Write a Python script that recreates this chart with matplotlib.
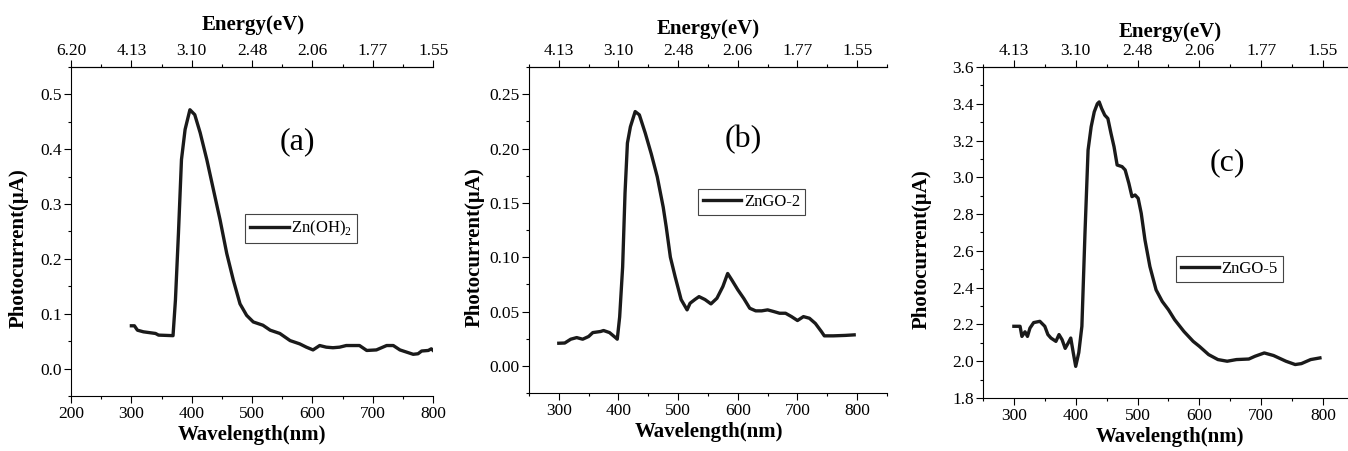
import matplotlib
matplotlib.use("Agg")
import matplotlib.pyplot as plt
from matplotlib.ticker import MultipleLocator, FormatStrFormatter

# === Data ===
wl_a = [300, 305, 310, 320, 340, 345, 369, 373, 378, 383, 389, 397, 405, 414, 425, 436,
        447, 458, 469, 480, 491, 502, 518, 530, 546, 563, 579, 590, 601, 612, 623, 634,
        645, 656, 678, 690, 706, 723, 734, 745, 756, 767, 775, 781, 792, 797, 800]
pc_a = [0.078, 0.078, 0.070, 0.067, 0.064, 0.061, 0.060, 0.125, 0.247, 0.381, 0.436, 0.472,
        0.463, 0.430, 0.381, 0.326, 0.271, 0.210, 0.161, 0.118, 0.097, 0.085, 0.079, 0.070,
        0.064, 0.051, 0.045, 0.039, 0.034, 0.042, 0.039, 0.038, 0.039, 0.042, 0.042, 0.033,
        0.034, 0.042, 0.042, 0.034, 0.030, 0.026, 0.027, 0.032, 0.033, 0.036, 0.033]

wl_b = [300, 310, 320, 330, 340, 350, 357, 370, 375, 385, 395, 398, 402, 407, 411, 415,
        420, 428, 435, 445, 455, 465, 475, 480, 487, 495, 505, 515, 520, 528, 535, 545,
        555, 565, 575, 583, 590, 600, 610, 620, 630, 640, 650, 660, 670, 680, 690, 700,
        710, 720, 730, 740, 745, 760, 780, 795]
pc_b = [0.0208, 0.021, 0.0245, 0.026, 0.0245, 0.027, 0.0306, 0.0316, 0.0325, 0.0306,
        0.026, 0.0245, 0.045, 0.091, 0.159, 0.205, 0.220, 0.234, 0.231, 0.214, 0.195,
        0.174, 0.146, 0.128, 0.100, 0.082, 0.061, 0.0515, 0.0576, 0.061, 0.0637, 0.061,
        0.057, 0.0622, 0.073, 0.085, 0.079, 0.070, 0.062, 0.053, 0.0506, 0.0506, 0.0515,
        0.050, 0.0484, 0.0484, 0.0453, 0.0417, 0.0453, 0.0438, 0.039, 0.0316, 0.0276,
        0.0276, 0.028, 0.0285]

wl_c = [300, 310, 313, 318, 322, 326, 332, 342, 350, 355, 360, 368, 373, 378, 383, 388,
        392, 396, 400, 405, 410, 415, 420, 425, 430, 435, 438, 442, 447, 452, 457, 462,
        467, 475, 480, 486, 491, 496, 501, 506, 512, 520, 530, 540, 550, 560, 575, 590,
        600, 615, 630, 645, 660, 680, 690, 705, 720, 740, 755, 765, 780, 795]
pc_c = [2.19, 2.19, 2.135, 2.16, 2.135, 2.18, 2.21, 2.217, 2.19, 2.145, 2.126, 2.108,
        2.145, 2.117, 2.07, 2.10, 2.126, 2.047, 1.972, 2.047, 2.19, 2.696, 3.148, 3.275,
        3.356, 3.40, 3.41, 3.374, 3.338, 3.32, 3.24, 3.166, 3.067, 3.058, 3.04, 2.967,
        2.895, 2.904, 2.886, 2.804, 2.66, 2.515, 2.388, 2.325, 2.28, 2.226, 2.162, 2.108,
        2.081, 2.036, 2.009, 2.00, 2.009, 2.012, 2.027, 2.045, 2.031, 2.00, 1.982, 1.987,
        2.009, 2.018]

# top axis (energy) labels, as printed
energy_ticks_a = [200, 300, 400, 500, 600, 700, 800]
energy_labels_a = ["6.20", "4.13", "3.10", "2.48", "2.06", "1.77", "1.55"]
energy_ticks_bc = [300, 400, 500, 600, 700, 800]
energy_labels_bc = ["4.13", "3.10", "2.48", "2.06", "1.77", "1.55"]

# === Font Setup ===
plt.rcParams['font.family'] = 'Liberation Serif'
plt.rcParams['mathtext.fontset'] = 'custom'
plt.rcParams['mathtext.rm'] = 'Liberation Serif'
plt.rcParams['font.size'] = 12
plt.rcParams['axes.linewidth'] = 0.8


def draw_panel(ax, x, y, name, tag, xlim, ylim, ymajor, yminor, yfmt,
               eticks, elabels, tag_pos, leg_pos, lab_pos):
    ax.plot(x, y, color='#1a1a1a', lw=2.4, label=name)
    ax.set_xlim(*xlim)
    ax.set_ylim(*ylim)
    ax.xaxis.set_major_locator(MultipleLocator(100))
    ax.xaxis.set_minor_locator(MultipleLocator(50))
    ax.yaxis.set_major_locator(MultipleLocator(ymajor))
    ax.yaxis.set_minor_locator(MultipleLocator(yminor))
    ax.yaxis.set_major_formatter(FormatStrFormatter(yfmt))
    ax.spines['right'].set_visible(False)
    ax.tick_params(which='both', direction='out', top=False, right=False, labelsize=12.5)
    ax.tick_params(which='major', length=5, width=0.8)
    ax.tick_params(which='minor', length=2.5, width=0.8)
    ax.tick_params(axis='y', pad=1.5)
    ax.tick_params(axis='x', pad=2.5)
    if xlim[0] == 250:
        ax.set_xticks([300, 400, 500, 600, 700, 800])

    top = ax.secondary_xaxis('top')
    top.set_xticks(eticks, elabels)
    top.xaxis.set_minor_locator(MultipleLocator(50))
    top.tick_params(which='major', length=5, width=0.8, labelsize=12.5, pad=0.5)
    top.tick_params(which='minor', length=2.5, width=0.8)

    ax.text(tag_pos[0], tag_pos[1], tag, transform=ax.transAxes, fontsize=23,
            ha='center', va='center')
    leg = ax.legend(loc='upper left', bbox_to_anchor=leg_pos, fontsize=12,
                    frameon=True, fancybox=False, framealpha=1, edgecolor='#444444',
                    handlelength=2.3, handletextpad=0.15, borderpad=0.3,
                    borderaxespad=0)
    leg.get_frame().set_linewidth(0.8)

    xl, el, yl = lab_pos
    ax.text(xl[0], xl[1], "Wavelength(nm)", transform=ax.transAxes, fontsize=15,
            fontweight='bold', ha='center', va='center')
    ax.text(el[0], el[1], "Energy(eV)", transform=ax.transAxes, fontsize=15,
            fontweight='bold', ha='center', va='center')
    ax.text(yl[0], yl[1], "Photocurrent(\u03bcA)", transform=ax.transAxes, fontsize=15,
            fontweight='bold', ha='center', va='center', rotation=90)


fig = plt.figure(figsize=(13.48, 4.51), dpi=100)
ax_a = fig.add_axes([0.0527, 0.122, 0.2686, 0.7295])
ax_b = fig.add_axes([0.3924, 0.1286, 0.2656, 0.7228])
ax_c = fig.add_axes([0.7292, 0.1175, 0.2752, 0.734])

draw_panel(ax_a, wl_a, pc_a, "Zn(OH)$_\\mathregular{2}$", "(a)", (200, 800), (-0.05, 0.55),
           0.1, 0.05, '%.1f', energy_ticks_a, energy_labels_a,
           (0.624, 0.772), (0.481, 0.553),
           ((0.5, -0.118), (0.503, 1.128), (-0.144, 0.45)))
draw_panel(ax_b, wl_b, pc_b, "ZnGO-2", "(b)", (250, 850), (-0.025, 0.275),
           0.05, 0.025, '%.2f', energy_ticks_bc, energy_labels_bc,
           (0.598, 0.776), (0.472, 0.626),
           ((0.503, -0.12), (0.5, 1.117), (-0.151, 0.446)))
draw_panel(ax_c, wl_c, pc_c, "ZnGO-5", "(c)", (250, 850), (1.8, 3.6),
           0.2, 0.1, '%.1f', energy_ticks_bc, energy_labels_bc,
           (0.658, 0.71), (0.52, 0.429),
           ((0.504, -0.117), (0.504, 1.106), (-0.164, 0.45)))

fig.savefig("out.png", dpi=100)
